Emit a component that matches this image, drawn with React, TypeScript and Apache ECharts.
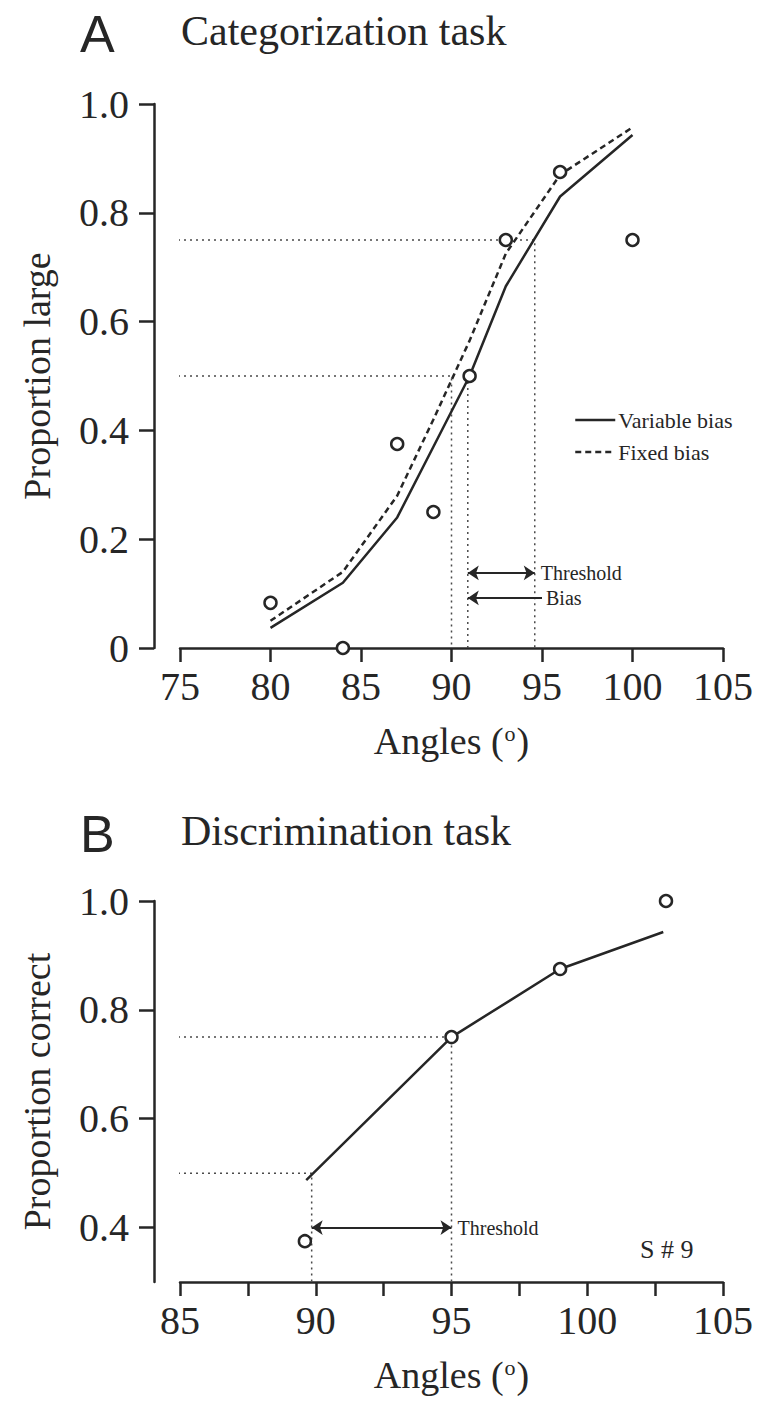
import React, { useEffect, useRef } from "react";
import * as echarts from "echarts";

// ---------- Panel A: categorization task ----------
const catAngles = [80, 84, 87, 89, 91, 93, 96, 100];
const catObserved = [0.083, 0, 0.375, 0.25, 0.5, 0.75, 0.875, 0.75];
const catVariableBias = [0.037, 0.12, 0.24, 0.37, 0.5, 0.665, 0.83, 0.943];
const catFixedBias = [0.05, 0.14, 0.28, 0.42, 0.565, 0.725, 0.87, 0.957];
const catYTicks = [0, 0.2, 0.4, 0.6, 0.8, 1.0];
const catXTicks = [75, 80, 85, 90, 95, 100, 105];

const catBias = 90.9; // variable-bias 50% point
const catFixedBias50 = 90.0; // fixed-bias 50% point
const catThreshold75 = 94.6; // 75% point
const catThresholdArrowY = 0.138;
const catBiasArrowY = 0.092;
const catBiasArrowStart = 95.0;

// ---------- Panel B: discrimination task ----------
const discObsAngles = [89.6, 95, 99, 102.9];
const discObserved = [0.375, 0.75, 0.875, 1.0];
const discFitAngles = [89.65, 95, 99, 102.8];
const discFit = [0.487, 0.75, 0.875, 0.943];
const discYTicks = [0.4, 0.6, 0.8, 1.0];
const discXLabels = [85, 90, 95, 100, 105];

const discLow50 = 89.85;
const discThreshold75 = 95.0;
const discArrowY = 0.4;

const INK = "#262626";
const DOT = "#4a4a4a";
const SERIF = '"Liberation Serif", "Times New Roman", Times, serif';
const SANS = '"Liberation Sans", Arial, Helvetica, sans-serif';

const GRID_LEFT = 180;
const GRID_W = 543;
const Y_OFFSET = 26;

const zip = (xs: number[], ys: number[]) => xs.map((x, i) => [x, ys[i]]);

function axisBase() {
  return {
    type: "value" as const,
    axisLine: { show: true, onZero: false, lineStyle: { color: INK, width: 2.5 } },
    axisTick: { show: true, length: 14, lineStyle: { color: INK, width: 2.5 } },
    splitLine: { show: false },
  };
}

function xAxis(gridIndex: number, min: number, max: number, interval: number, labels?: number[]) {
  return {
    ...axisBase(),
    gridIndex,
    min,
    max,
    interval,
    axisLabel: {
      color: INK,
      fontSize: 40,
      fontFamily: SERIF,
      margin: 18,
      ...(labels ? { customValues: labels } : {}),
    },
    name: "Angles ({sup|o})",
    nameLocation: "middle",
    nameGap: 74,
    nameTextStyle: {
      color: INK,
      fontSize: 38,
      fontFamily: SERIF,
      rich: {
        sup: { fontSize: 22, fontFamily: SERIF, color: INK, verticalAlign: "top", padding: [0, 1, 0, 1] },
      },
    },
  };
}

function yAxis(gridIndex: number, min: number, max: number, name: string, ticks: number[], interval?: number) {
  return {
    ...axisBase(),
    gridIndex,
    min,
    max,
    ...(interval ? { interval } : {}),
    offset: Y_OFFSET,
    axisTick: { show: true, length: 15, lineStyle: { color: INK, width: 2.5 }, customValues: ticks },
    axisLabel: {
      color: INK,
      fontSize: 40,
      fontFamily: SERIF,
      margin: 25,
      customValues: ticks,
      formatter: (v: number) => (v === 0 ? "0" : v.toFixed(1)),
    },
    name,
    nameLocation: "middle",
    nameRotate: 90,
    nameGap: 98,
    nameTextStyle: { color: INK, fontSize: 38, fontFamily: SERIF },
  };
}

const refStyle = { color: DOT, width: 1.5, type: [2, 4] };

function refLine(idx: number, data: number[][]) {
  return {
    type: "line",
    xAxisIndex: idx,
    yAxisIndex: idx,
    data,
    clip: false,
    symbol: "none",
    silent: true,
    lineStyle: refStyle,
    z: 1,
  };
}

const arrowLabel = { show: true, color: INK, fontSize: 20, fontFamily: SERIF, distance: 6 };

export default function App() {
  const ref = useRef<HTMLDivElement>(null);

  useEffect(() => {
    if (!ref.current) return;
    const chart = echarts.init(ref.current, undefined, { renderer: "svg" });

    // x-value at which the (offset) y-axis line sits, via the axis scale
    const yAxisXTop = 75 - Y_OFFSET / (GRID_W / (105 - 75));
    const yAxisXBottom = 85 - Y_OFFSET / (GRID_W / (105 - 85));

    const option: any = {
      animation: false,
      backgroundColor: "#ffffff",
      grid: [
        { left: GRID_LEFT, width: GRID_W, top: 104, height: 544 },
        { left: GRID_LEFT, width: GRID_W, top: 901, height: 381 },
      ],
      xAxis: [
        xAxis(0, catXTicks[0], catXTicks[catXTicks.length - 1], 5),
        xAxis(1, 85, 105, 2.5, discXLabels),
      ],
      yAxis: [
        yAxis(0, 0, 1, "Proportion large", catYTicks, 0.2),
        yAxis(1, 0.3, 1, "Proportion correct", discYTicks),
      ],
      legend: {
        data: ["Variable bias", "Fixed bias"],
        orient: "vertical",
        left: 569,
        top: 404,
        itemWidth: 40,
        itemHeight: 14,
        itemGap: 10,
        itemStyle: { opacity: 0, borderWidth: 0 },
        lineStyle: { width: 2.5 },
        textStyle: { color: INK, fontSize: 22, fontFamily: SERIF, padding: [0, 0, 0, -2] },
        selectedMode: false,
      },
      graphic: [
        { type: "text", left: 80, top: 8, style: { text: "A", fontSize: 52, fontFamily: SANS, fill: INK } },
        { type: "text", left: 181, top: 10, style: { text: "Categorization task", fontSize: 42, fontFamily: SERIF, fill: INK } },
        { type: "text", left: 80, top: 808, style: { text: "B", fontSize: 52, fontFamily: SANS, fill: INK } },
        { type: "text", left: 181, top: 810, style: { text: "Discrimination task", fontSize: 42, fontFamily: SERIF, fill: INK } },
        { type: "text", left: 640, top: 1236, style: { text: "S # 9", fontSize: 26, fontFamily: SERIF, fill: INK } },
      ],
      series: [
        // Panel A reference lines
        refLine(0, [[yAxisXTop, 0.75], [catThreshold75, 0.75], [catThreshold75, 0]]),
        refLine(0, [[yAxisXTop, 0.5], [catFixedBias50, 0.5], [catFixedBias50, 0]]),
        {
          ...refLine(0, [[catBias, 0.5], [catBias, 0]]),
          markLine: {
            silent: true,
            animation: false,
            symbolSize: 11,
            lineStyle: { type: "solid", color: INK, width: 1.8 },
            label: arrowLabel,
            emphasis: { disabled: true },
            data: [
              [
                { coord: [catBias, catThresholdArrowY], symbol: "arrow", label: { ...arrowLabel, position: "end", formatter: "Threshold" } },
                { coord: [catThreshold75, catThresholdArrowY], symbol: "arrow" },
              ],
              [
                { coord: [catBiasArrowStart, catBiasArrowY], symbol: "none", label: { ...arrowLabel, position: "start", distance: 4, formatter: "Bias" } },
                { coord: [catBias, catBiasArrowY], symbol: "arrow" },
              ],
            ],
          },
        },
        {
          name: "Variable bias",
          type: "line",
          xAxisIndex: 0,
          yAxisIndex: 0,
          data: zip(catAngles, catVariableBias),
          symbol: "none",
          lineStyle: { color: INK, width: 2.5, type: "solid" },
          itemStyle: { color: INK },
          z: 3,
        },
        {
          name: "Fixed bias",
          type: "line",
          xAxisIndex: 0,
          yAxisIndex: 0,
          data: zip(catAngles, catFixedBias),
          symbol: "none",
          lineStyle: { color: INK, width: 2.5, type: [6, 4] },
          itemStyle: { color: INK },
          z: 3,
        },
        {
          name: "Observed A",
          type: "scatter",
          xAxisIndex: 0,
          yAxisIndex: 0,
          data: zip(catAngles, catObserved),
          symbol: "circle",
          symbolSize: 12,
          clip: false,
          itemStyle: { color: "#ffffff", borderColor: INK, borderWidth: 2.5, opacity: 1 },
          z: 5,
        },
        // Panel B reference lines
        refLine(1, [[yAxisXBottom, 0.75], [discThreshold75, 0.75], [discThreshold75, 0.3]]),
        {
          ...refLine(1, [[yAxisXBottom, 0.5], [discLow50, 0.5], [discLow50, 0.3]]),
          markLine: {
            silent: true,
            animation: false,
            symbolSize: 11,
            lineStyle: { type: "solid", color: INK, width: 1.8 },
            label: arrowLabel,
            emphasis: { disabled: true },
            data: [
              [
                { coord: [discLow50, discArrowY], symbol: "arrow", label: { ...arrowLabel, position: "end", formatter: "Threshold" } },
                { coord: [discThreshold75, discArrowY], symbol: "arrow" },
              ],
            ],
          },
        },
        {
          name: "Discrimination fit",
          type: "line",
          xAxisIndex: 1,
          yAxisIndex: 1,
          data: zip(discFitAngles, discFit),
          symbol: "none",
          lineStyle: { color: INK, width: 2.5 },
          z: 3,
        },
        {
          name: "Observed B",
          type: "scatter",
          xAxisIndex: 1,
          yAxisIndex: 1,
          data: zip(discObsAngles, discObserved),
          symbol: "circle",
          symbolSize: 12,
          clip: false,
          itemStyle: { color: "#ffffff", borderColor: INK, borderWidth: 2.5, opacity: 1 },
          z: 5,
        },
      ],
    };

    chart.setOption(option);
    return () => chart.dispose();
  }, []);

  return (
    <div
      ref={ref}
      style={{ position: "absolute", left: 0, top: 0, width: 757, height: 1405, background: "#fff" }}
    />
  );
}
